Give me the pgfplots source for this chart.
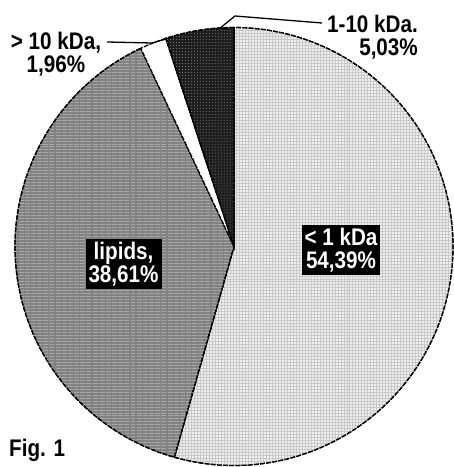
\documentclass[border=0pt]{standalone}
\usepackage{pgfplots}
\pgfplotsset{compat=1.18}
\usepackage{pgfplotstable}
\usetikzlibrary{patterns}
\usepackage{fontspec}
\setmainfont{Liberation Sans}
\newfontfamily\lab[FakeStretch=0.86,BoldFont={Liberation Sans Bold}]{Liberation Sans}
\definecolor{lightfill}{HTML}{EFEFEF}
\definecolor{lightgrid}{HTML}{C8C8C8}
\definecolor{midfill}{HTML}{828282}
\definecolor{midline}{HTML}{A8A8A8}
\definecolor{darkfill}{HTML}{1E1E1E}
\definecolor{darkdot}{HTML}{8A8A8A}
% pie shares (percent), clockwise from the top
\pgfplotstableread{
label   pct
small   54.39
lipids  38.61
large   1.96
mid     5.03
}\piedata
\pgfplotstablegetelem{0}{pct}\of\piedata \let\pA\pgfplotsretval
\pgfplotstablegetelem{1}{pct}\of\piedata \let\pB\pgfplotsretval
\pgfplotstablegetelem{2}{pct}\of\piedata \let\pC\pgfplotsretval
\pgfplotstablegetelem{3}{pct}\of\piedata \let\pD\pgfplotsretval
\pgfmathsetmacro\aO{90}
\pgfmathsetmacro\aA{\aO-3.6*\pA}
\pgfmathsetmacro\aB{\aA-3.6*\pB}
\pgfmathsetmacro\aC{\aB-3.6*\pC}
\pgfmathsetmacro\aD{\aC-3.6*\pD}
\def\cx{234}
\def\cy{246.5}
\def\R{219}
\begin{document}
\begin{tikzpicture}
\begin{axis}[
  width=454bp, height=467bp, scale only axis,
  xmin=0, xmax=454, ymin=0, ymax=467, y dir=reverse,
  hide axis, clip=false,
  every axis plot/.append style={line width=1.3pt, dash pattern=on 5pt off 1.2pt},
]
\path (rel axis cs:0,0) (rel axis cs:1,1);
\addplot[fill=lightfill, draw=black, domain=\aA:\aO, samples=120,
  postaction={pattern=grid, pattern color=lightgrid}]
  ({\cx+\R*cos(x)},{\cy-\R*sin(x)}) -- (axis cs:\cx,\cy) -- cycle;
\addplot[fill=midfill, draw=black, domain=\aB:\aA, samples=100,
  postaction={pattern=horizontal lines, pattern color=midline}]
  ({\cx+\R*cos(x)},{\cy-\R*sin(x)}) -- (axis cs:\cx,\cy) -- cycle;
\addplot[fill=white, draw=black, domain=\aC:\aB, samples=10]
  ({\cx+\R*cos(x)},{\cy-\R*sin(x)}) -- (axis cs:\cx,\cy) -- cycle;
\addplot[fill=darkfill, draw=black, domain=\aD:\aC, samples=20,
  postaction={pattern=dots, pattern color=darkdot}]
  ({\cx+\R*cos(x)},{\cy-\R*sin(x)}) -- (axis cs:\cx,\cy) -- cycle;
% leader lines
\draw[line width=1.3pt] (axis cs:322,23) -- (axis cs:235,16) -- (axis cs:219,29);
\draw[line width=1.3pt] (axis cs:107,42) -- (axis cs:152,43) -- (axis cs:173,37);
% labels
\node[font=\lab\bfseries\fontsize{24bp}{23bp}\selectfont, align=right, anchor=north east, inner sep=0pt]
  at (axis cs:418,15) {1-10 kDa.\\5,03\%};
\node[font=\lab\bfseries\fontsize{24bp}{23bp}\selectfont, align=center, inner sep=0pt]
  at (axis cs:56,54) {> 10 kDa,\\1,96\%};
\node[font=\lab\bfseries\fontsize{24bp}{23bp}\selectfont, align=center, fill=black, text=white, inner sep=3bp]
  at (axis cs:123.5,264) {lipids,\\38,61\%};
\node[font=\lab\bfseries\fontsize{24bp}{23bp}\selectfont, align=center, fill=black, text=white, inner sep=3bp]
  at (axis cs:341,250) {< 1 kDa\\54,39\%};
\node[font=\lab\bfseries\fontsize{24bp}{23bp}\selectfont, anchor=west, inner sep=0pt]
  at (axis cs:9,450) {Fig. 1};
\end{axis}
\end{tikzpicture}
\end{document}
